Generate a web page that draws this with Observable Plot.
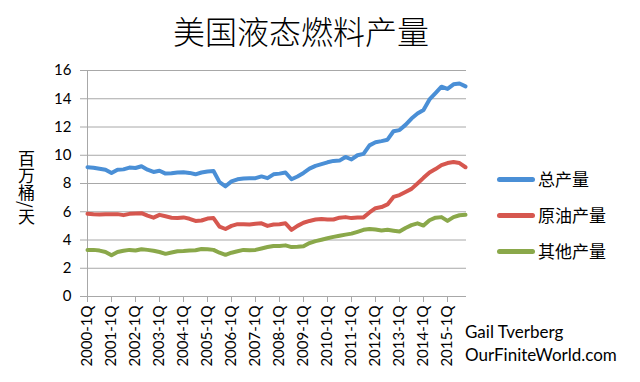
<!DOCTYPE html>
<html>
<head>
<meta charset="utf-8">
<script src="https://cdn.jsdelivr.net/npm/d3@7"></script>
<script src="https://cdn.jsdelivr.net/npm/@observablehq/plot@0.6"></script>
<style>
  html, body { margin: 0; padding: 0; background: #fff; }
  #wrap { position: relative; width: 640px; height: 382px; overflow: hidden; font-family: "Noto Sans CJK SC", sans-serif; }
  #title { position: absolute; left: 0; width: 602px; top: 8px; text-align: center; font-size: 32px; font-weight: 300; color: #000; line-height: 44px; }
  #ylab { position: absolute; left: 16px; top: 150px; writing-mode: vertical-rl; font-size: 17px; line-height: 20px; color: #000; }
  .leg { position: absolute; left: 497px; font-size: 17px; line-height: 20px; color: #000; display: flex; align-items: center; }
  .sw { width: 38px; height: 5px; border-radius: 3px; margin-right: 3px; }
  #cap { position: absolute; left: 465px; top: 320px; font-family: Lato, sans-serif; font-size: 17px; line-height: 23px; color: #000; }
  #chart { position: absolute; left: 0; top: 0; }
</style>
</head>
<body>
<div id="wrap">
  <div id="chart"></div>
  <div id="title">美国液态燃料产量</div>
  <div id="ylab">百万桶/天</div>
  <div id="legend"></div>
  <div id="cap">Gail Tverberg<br>OurFiniteWorld.com</div>
</div>
<script>
// Categories
const years = [2000, 2001, 2002, 2003, 2004, 2005, 2006, 2007, 2008, 2009, 2010, 2011, 2012, 2013, 2014, 2015];
const quarterNames = ["1Q", "2Q", "3Q", "4Q"];
const quarters = years.flatMap(y => quarterNames.map(q => `${y}-${q}`));
const xTickLabels = years.map(y => `${y}-1Q`);
const yTicks = [0, 2, 4, 6, 8, 10, 12, 14, 16];

// Series names
const seriesNames = ["总产量", "原油产量", "其他产量"];
const seriesColors = ["#4a8fd6", "#d6574f", "#8aa84a"];

// Values (million barrels per day)
const totalProduction = [
  9.15, 9.12, 9.05, 8.98, 8.75, 8.98, 9.0, 9.13, 9.1, 9.22, 8.98, 8.82, 8.9, 8.7, 8.72, 8.78,
  8.8, 8.75, 8.65, 8.78, 8.85, 8.88, 8.1, 7.8, 8.15, 8.3, 8.35, 8.37, 8.38, 8.5, 8.38, 8.65,
  8.7, 8.78, 8.3, 8.5, 8.75, 9.05, 9.25, 9.37, 9.5, 9.6, 9.62, 9.88, 9.7, 10.0, 10.1, 10.7,
  10.92, 11.0, 11.1, 11.7, 11.78, 12.15, 12.6, 12.95, 13.2, 13.95, 14.4, 14.85, 14.7, 15.02, 15.08, 14.88
];
const crudeProduction = [
  5.85, 5.82, 5.8, 5.83, 5.82, 5.83, 5.76, 5.85, 5.88, 5.9, 5.72, 5.58, 5.78, 5.68, 5.58, 5.56,
  5.6, 5.5, 5.35, 5.38, 5.52, 5.55, 4.95, 4.78, 5.0, 5.12, 5.12, 5.1, 5.15, 5.18, 5.0, 5.1,
  5.12, 5.18, 4.72, 5.0, 5.22, 5.35, 5.45, 5.48, 5.45, 5.45, 5.58, 5.62, 5.55, 5.6, 5.6, 5.95,
  6.25, 6.33, 6.52, 7.05, 7.18, 7.4, 7.62, 8.0, 8.4, 8.78, 9.02, 9.3, 9.45, 9.52, 9.45, 9.15
];
const otherProduction = [
  3.3, 3.3, 3.25, 3.15, 2.92, 3.15, 3.24, 3.3, 3.26, 3.35, 3.3, 3.24, 3.15, 3.02, 3.12, 3.2,
  3.22, 3.25, 3.28, 3.36, 3.35, 3.3, 3.1, 2.95, 3.1, 3.2, 3.3, 3.28, 3.3, 3.4, 3.5, 3.58,
  3.58, 3.62, 3.5, 3.52, 3.55, 3.78, 3.92, 4.02, 4.12, 4.22, 4.3, 4.38, 4.45, 4.58, 4.72, 4.78,
  4.74, 4.68, 4.72, 4.66, 4.6, 4.85, 5.05, 5.18, 5.02, 5.4, 5.58, 5.62, 5.35, 5.62, 5.75, 5.78
];

const seriesValues = [totalProduction, crudeProduction, otherProduction];
const rows = seriesNames.flatMap((name, s) =>
  quarters.map((q, i) => ({series: name, quarter: q, value: seriesValues[s][i]}))
);

const chart = Plot.plot({
  width: 640,
  height: 382,
  marginLeft: 85,
  marginRight: 174,
  marginTop: 70,
  marginBottom: 86,
  style: {fontFamily: "Lato, sans-serif", fontSize: "15px", color: "#000", background: "#fff"},
  x: {type: "point", domain: quarters, padding: 0},
  y: {domain: [0, 16]},
  color: {domain: seriesNames, range: seriesColors},
  marks: [
    Plot.gridY(yTicks, {stroke: "#a8a8a8", strokeOpacity: 1, strokeWidth: 1}),
    Plot.ruleX([quarters[0]], {stroke: "#a8a8a8", strokeWidth: 1}),
    Plot.ruleY([0], {stroke: "#a8a8a8", strokeWidth: 1}),
    Plot.axisY(yTicks, {tickSize: 5, tickPadding: 9, stroke: "#a8a8a8", fill: "#000", fontSize: 15, label: null}),
    Plot.axisX(xTickLabels, {tickSize: 6, tickPadding: 3, tickRotate: -90, stroke: "#a8a8a8", fill: "#000", fontSize: 15, label: null}),
    Plot.line(rows, {x: "quarter", y: "value", z: "series", stroke: "series", strokeWidth: 4, strokeLinejoin: "round", strokeLinecap: "round"})
  ]
});
document.getElementById("chart").appendChild(chart);

// Legend
const legend = document.getElementById("legend");
const legendTops = [169, 205, 241];
seriesNames.forEach((name, i) => {
  const d = document.createElement("div");
  d.className = "leg";
  d.style.top = legendTops[i] + "px";
  d.innerHTML = `<span class="sw" style="background:${seriesColors[i]}"></span><span>${name}</span>`;
  legend.appendChild(d);
});
</script>
</body>
</html>
